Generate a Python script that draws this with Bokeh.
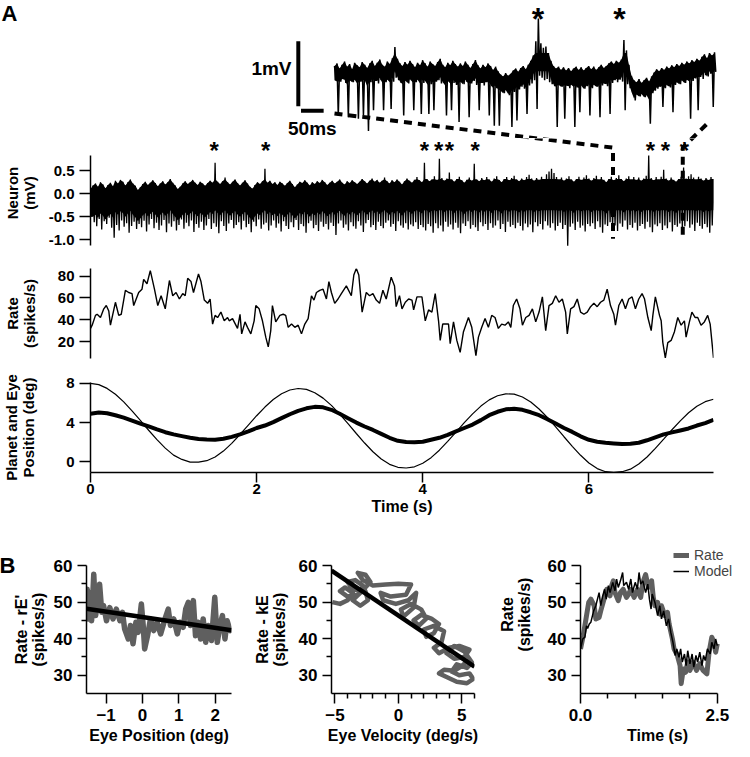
import numpy as np
from bokeh.plotting import figure
from bokeh.models import Range1d, FixedTicker, PrintfTickFormatter, Label, Legend, LegendItem
from bokeh.layouts import column, row
from bokeh.embed import file_html
from bokeh.resources import INLINE
from bokeh.core.properties import value

# ---------------- data ----------------
# Panel A: neuron trace, upper / lower envelope every 30 ms, 0 .. 7.5 s (mV)
neuron_dt = 0.03
neuron_hi = [0.10,0.18,0.22,0.15,0.25,0.20,0.12,0.19,0.24,0.16,
 0.28,0.22,0.30,0.26,0.18,0.25,0.31,0.22,0.17,0.08,
 0.14,0.21,0.26,0.19,0.24,0.29,0.23,0.16,0.22,0.27,
 0.20,0.25,0.32,0.24,0.18,0.10,0.15,0.22,0.27,0.21,
 0.25,0.30,0.24,0.19,0.26,0.22,0.17,0.23,0.28,0.24,
 0.67,0.26,0.21,0.27,0.35,0.25,0.20,0.26,0.31,0.23,
 0.18,0.24,0.29,0.22,0.15,0.11,0.19,0.25,0.21,0.27,
 0.54,0.24,0.28,0.21,0.25,0.19,0.26,0.22,0.17,0.23,
 0.28,0.21,0.14,0.20,0.26,0.23,0.29,0.24,0.18,0.25,
 0.21,0.27,0.23,0.30,0.25,0.19,0.24,0.28,0.22,0.26,
 0.31,0.24,0.20,0.27,0.23,0.29,0.25,0.21,0.26,0.32,
 0.27,0.22,0.28,0.33,0.26,0.30,0.24,0.28,0.35,0.27,
 0.22,0.29,0.25,0.31,0.26,0.20,0.27,0.33,0.28,0.24,
 0.30,0.36,0.29,0.25,0.67,0.32,0.27,0.31,0.38,0.30,
 0.76,0.34,0.28,0.33,0.46,0.31,0.26,0.32,0.37,0.29,
 0.24,0.30,0.35,0.28,0.65,0.31,0.27,0.34,0.29,0.36,
 0.31,0.26,0.33,0.38,0.30,0.25,0.32,0.36,0.29,0.34,
 0.39,0.31,0.27,0.33,0.29,0.36,0.41,0.33,0.28,0.34,
 0.30,0.37,0.32,0.42,0.48,0.54,0.45,0.36,0.31,0.35,
 0.28,0.33,0.38,0.31,0.26,0.32,0.37,0.30,0.35,0.40,
 0.33,0.28,0.34,0.39,0.31,0.36,0.30,0.25,0.32,0.37,
 0.29,0.34,0.40,0.32,0.27,0.33,0.38,0.31,0.36,0.30,
 0.35,0.28,0.33,0.39,0.83,0.34,0.29,0.36,0.31,0.37,
 0.52,0.33,0.28,0.35,0.30,0.26,0.32,0.37,0.57,0.33,
 0.38,0.42,0.35,0.31,0.37,0.33,0.28,0.34,0.30,0.36,0.32]
neuron_lo = [-0.50,-0.62,-0.71,-0.55,-0.78,-0.60,-0.66,-0.52,-0.74,-0.96,
 -0.68,-0.80,-0.58,-0.72,-0.64,-0.85,-0.70,-0.61,-0.77,-0.66,
 -0.73,-0.59,-0.82,-0.67,-0.55,-0.75,-0.63,-0.79,-0.69,-0.57,
 -0.84,-0.65,-0.72,-0.60,-0.80,-0.68,-0.56,-0.76,-0.63,-0.71,
 -0.58,-0.83,-0.66,-0.74,-0.61,-0.79,-0.69,-0.55,-0.77,-0.64,
 -0.72,-0.86,-0.60,-0.70,-0.81,-0.65,-0.57,-0.75,-0.68,-0.62,
 -0.78,-0.59,-0.73,-0.66,-0.84,-0.61,-0.71,-0.56,-0.76,-0.67,
 -0.63,-0.80,-0.69,-0.58,-0.74,-0.65,-0.82,-0.60,-0.70,-0.77,
 -0.62,-0.73,-0.57,-0.79,-0.66,-0.71,-0.85,-0.64,-0.59,-0.75,
 -0.68,-0.81,-0.61,-0.72,-0.66,-0.78,-0.63,-0.70,-0.90,-0.65,
 -0.58,-0.74,-0.67,-0.80,-0.62,-0.71,-0.76,-0.60,-0.69,-0.83,
 -0.64,-0.57,-0.73,-0.68,-0.79,-0.61,-0.70,-0.75,-0.63,-0.58,
 -0.72,-0.66,-0.81,-0.60,-0.69,-0.74,-0.64,-0.78,-0.67,-0.71,
 -0.62,-0.77,-0.68,-0.73,-0.80,-0.66,-0.71,-0.85,-0.64,-0.75,
 -0.69,-0.82,-0.61,-0.72,-0.67,-0.78,-0.63,-0.74,-0.86,-0.65,
 -0.70,-0.60,-0.76,-0.68,-0.73,-0.81,-0.62,-0.71,-0.66,-0.79,
 -0.64,-0.74,-0.69,-0.58,-0.77,-0.66,-0.83,-0.61,-0.72,-0.68,
 -0.75,-0.63,-0.70,-0.80,-0.65,-0.73,-0.67,-0.84,-0.62,-0.71,
 -0.66,-0.78,-0.60,-0.69,-0.74,-0.64,-0.80,-0.70,-0.63,-0.77,
 -0.68,-1.13,-0.72,-0.65,-0.79,-0.61,-0.74,-0.69,-0.82,-0.66,
 -0.71,-0.64,-0.77,-0.60,-0.73,-0.85,-0.67,-0.70,-0.62,-0.76,
 -0.69,-0.81,-0.65,-0.72,-0.58,-0.78,-0.68,-0.74,-0.63,-0.80,
 -0.70,-0.66,-0.76,-0.61,-0.73,-0.84,-0.67,-0.71,-0.64,-0.79,
 -0.69,-0.75,-0.62,-0.82,-0.68,-0.72,-0.65,-0.78,-0.71,-0.60,
 -0.74,-0.67,-0.81,-0.63,-0.70,-0.76,-0.66,-0.73,-0.85,-0.69,-0.62]
complex_spike_t = [1.49, 2.11, 4.02, 4.19, 4.32, 4.63, 6.74, 6.92, 7.15]
zoom_window = [6.29, 7.13]

# inset: magnified trace of the zoom window, upper / lower envelope (mV)
inset_hi = [0.10,0.14,0.06,0.12,0.17,0.09,0.13,0.05,0.15,0.11,
 0.08,0.16,0.12,0.07,0.14,0.18,0.10,0.15,0.20,0.12,
 0.09,0.17,0.13,0.22,0.39,0.21,0.14,0.10,0.16,0.12,
 0.18,0.13,0.08,0.15,0.11,0.19,0.14,0.09,0.17,0.13,
 0.10,0.16,0.21,0.12,0.08,0.15,0.11,0.18,0.13,0.09,
 0.14,0.10,0.17,0.12,0.07,0.13,0.19,0.11,0.06,0.12,
 0.08,0.14,0.10,0.04,0.09,0.02,-0.03,-0.06,-0.01,-0.05,
 -0.02,0.03,0.06,0.01,0.07,0.10,0.05,0.12,0.18,0.26,
 0.48,0.83,0.45,0.38,0.40,0.30,0.18,0.10,0.06,0.09,
 0.04,0.08,0.03,0.07,0.02,0.06,0.09,0.04,0.08,0.03,
 0.07,0.10,0.05,0.09,0.04,0.08,0.12,0.07,0.10,0.14,
 0.17,0.13,0.18,0.15,0.20,0.50,0.34,0.12,-0.05,-0.12,
 -0.15,-0.10,-0.16,-0.12,-0.08,-0.14,-0.06,0.00,0.05,0.02,
 0.07,0.04,0.09,0.06,0.11,0.08,0.13,0.10,0.15,0.12,
 0.17,0.14,0.19,0.16,0.21,0.18,0.24,0.28,0.22,0.30,0.26,0.31]
inset_lo = [-0.12,-0.66,-0.14,-0.10,-0.16,-0.69,-0.12,-0.15,-0.11,-0.71,
 -0.14,-0.66,-0.12,-0.90,-0.15,-0.58,-0.13,-0.17,-0.12,-0.58,
 -0.15,-0.11,-0.56,-0.14,-0.08,-0.12,-0.16,-0.66,-0.13,-0.17,
 -0.12,-0.58,-0.15,-0.11,-0.64,-0.16,-0.13,-0.64,-0.18,-0.58,
 -0.14,-0.12,-0.17,-0.15,-0.66,-0.13,-0.58,-0.16,-0.19,-0.76,
 -0.15,-0.18,-0.14,-0.69,-0.17,-0.13,-0.19,-0.58,-0.16,-0.20,
 -0.15,-0.66,-0.21,-0.82,-0.24,-0.82,-0.28,-0.32,-0.27,-0.35,
 -0.84,-0.30,-0.74,-0.26,-0.22,-0.25,-0.64,-0.20,-0.17,-0.12,
 -0.56,-0.05,-0.08,-0.12,-0.10,-0.15,-0.18,-0.21,-0.84,-0.19,
 -0.22,-0.71,-0.20,-0.24,-0.19,-0.84,-0.23,-0.61,-0.20,-0.25,
 -0.21,-0.66,-0.24,-0.19,-0.22,-0.69,-0.20,-0.17,-0.21,-0.64,
 -0.16,-0.12,-0.15,-0.11,-0.14,-0.58,-0.18,-0.24,-0.30,-0.43,
 -0.34,-0.37,-0.33,-0.38,-0.35,-0.79,-0.32,-0.28,-0.25,-0.22,
 -0.53,-0.24,-0.20,-0.23,-0.61,-0.19,-0.15,-0.18,-0.12,-0.16,
 -0.11,-0.71,-0.13,-0.09,-0.58,-0.07,-0.10,-0.04,-0.06,-0.02,-0.53,0.01]

# firing rate (spikes/s)
rate_t = [0.00,0.02,0.06,0.08,0.12,0.16,0.19,0.22,0.24,0.30,0.34,0.37,0.42,0.46,0.50,0.52,0.58,0.62,0.64,0.68,
 0.72,0.77,0.81,0.85,0.90,0.95,0.99,1.03,1.07,1.11,1.14,1.17,1.21,1.24,1.30,1.33,1.37,1.41,1.44,1.47,
 1.50,1.53,1.57,1.61,1.65,1.67,1.71,1.77,1.80,1.82,1.86,1.89,1.93,1.97,1.99,2.03,2.07,2.11,2.14,2.17,
 2.19,2.23,2.28,2.32,2.35,2.38,2.42,2.46,2.50,2.54,2.58,2.62,2.66,2.69,2.72,2.76,2.80,2.84,2.87,2.90,
 2.94,2.98,3.02,3.08,3.14,3.17,3.20,3.23,3.27,3.32,3.36,3.40,3.44,3.48,3.52,3.56,3.62,3.66,3.68,3.72,
 3.75,3.79,3.83,3.87,3.89,3.93,3.99,4.03,4.07,4.11,4.15,4.19,4.21,4.24,4.27,4.31,4.33,4.37,4.41,4.45,
 4.49,4.55,4.59,4.64,4.67,4.71,4.75,4.79,4.83,4.87,4.91,4.95,4.99,5.03,5.06,5.09,5.13,5.17,5.20,5.24,
 5.28,5.32,5.36,5.40,5.44,5.48,5.52,5.56,5.60,5.64,5.68,5.72,5.74,5.78,5.82,5.86,5.90,5.94,5.98,6.02,
 6.06,6.10,6.14,6.18,6.22,6.26,6.30,6.32,6.36,6.40,6.44,6.48,6.52,6.56,6.60,6.64,6.67,6.71,6.75,6.77,
 6.80,6.85,6.87,6.89,6.92,6.95,6.99,7.03,7.07,7.11,7.15,7.17,7.21,7.24,7.28,7.31,7.35,7.39,7.43,7.46,7.50]
rate_v = [32,35,44,45,42,50,53,48,35,56,44,45,67,65,64,53,65,68,77,73,
 85,68,53,62,50,76,62,65,59,64,62,78,75,65,82,75,58,55,59,36,
 44,42,47,39,42,39,41,32,45,27,38,33,27,39,53,50,39,24,15,30,
 53,38,44,45,44,33,36,33,35,27,36,41,62,58,65,67,68,59,75,65,
 55,59,64,71,62,81,87,81,47,65,62,64,58,55,67,59,79,71,52,62,
 50,56,59,58,49,61,61,39,49,47,64,39,21,36,36,36,18,38,21,10,
 29,42,33,7,24,33,41,33,44,42,32,36,35,38,33,53,59,50,35,42,
 44,50,38,47,61,30,53,55,62,56,59,47,27,50,52,59,47,45,47,52,
 55,52,56,58,68,53,45,35,53,59,50,59,61,50,59,64,59,42,30,44,
 61,44,39,19,5,19,21,29,42,35,39,24,38,47,42,42,35,38,44,36,5]

# planet (target) and eye position, every 0.1 s (deg)
pos_dt = 0.1
planet_pos = [8.00,7.86,7.48,6.88,6.11,5.20,4.22,3.22,2.26,1.40,
 0.69,0.25,-0.02,-0.03,0.12,0.50,1.10,1.89,2.79,3.75,
 4.70,5.58,6.35,6.94,7.32,7.47,7.38,7.04,6.49,5.75,
 4.86,3.89,2.89,1.92,1.03,0.29,-0.25,-0.55,-0.62,-0.50,
 -0.14,0.43,1.19,2.08,3.03,3.99,4.89,5.68,6.31,6.73,
 6.93,6.89,6.60,6.09,5.38,4.52,3.56,2.56,1.58,0.67,
 -0.11,-0.68,-1.00,-1.07,-1.00,-0.74,-0.21,0.50,1.37,2.31,
 3.27,4.18,5.00,5.67,6.13,6.38]
eye_pos = [4.90,5.02,4.95,4.75,4.50,4.20,3.90,3.62,3.30,3.02,
 2.80,2.62,2.45,2.33,2.28,2.25,2.35,2.55,2.80,3.10,
 3.45,3.70,4.05,4.45,4.85,5.20,5.45,5.60,5.55,5.30,
 4.90,4.45,4.00,3.60,3.25,2.85,2.45,2.15,2.02,2.00,
 2.05,2.25,2.45,2.75,3.10,3.45,3.80,4.25,4.75,5.10,
 5.35,5.40,5.30,5.05,4.75,4.35,3.90,3.45,3.05,2.60,
 2.25,2.05,1.95,1.88,1.82,1.85,1.95,2.20,2.50,2.80,
 3.00,3.20,3.40,3.70,3.95,4.29]

# Panel B1: rate - rE' against eye position
b1_eye_pos = [-1.54,-1.52,-1.49,-1.45,-1.40,-1.34,-1.29,-1.22,-1.18,-1.12,-1.07,-0.99,-0.90,-0.81,-0.72,
 -0.62,-0.55,-0.49,-0.39,-0.33,-0.26,-0.18,-0.12,-0.03,0.02,0.06,0.14,0.22,0.31,0.40,0.50,0.62,0.71,0.77,
 0.86,0.96,1.03,1.12,1.19,1.26,1.32,1.40,1.46,1.53,1.60,1.67,1.74,1.81,1.90,1.99,2.06,2.13,2.20,2.27,2.33,2.41,2.48]
b1_rate = [48.1,53.5,45.4,52.6,44.9,57.6,46.3,50.8,54.9,47.2,49.0,44.9,48.5,45.4,48.1,
 44.9,47.2,42.6,39.9,43.6,38.6,44.5,41.7,49.5,43.6,37.2,40.8,45.4,42.2,44.5,41.3,45.4,48.1,43.6,
 45.4,41.3,44.5,43.1,48.1,49.9,43.6,50.4,40.8,44.5,39.9,45.4,39.0,43.6,39.5,51.3,39.0,43.6,46.3,39.9,44.9,42.2,43.1]
b1_fit = [45.9, -1.47]   # intercept, slope

# Panel B2: rate - kE against eye velocity
b2_eye_vel = [-5.2,-4.6,-4.0,-3.6,-4.2,-4.6,-4.0,-3.2,-2.8,-3.4,-4.0,-3.6,-2.6,-2.4,-3.0,
 -3.6,-3.0,-2.2,-2.6,-3.2,-2.8,-2.0,-1.0,0.0,1.0,0.6,-0.6,-1.4,-1.2,-0.2,
 0.8,1.4,1.2,0.4,0.2,1.0,1.8,2.2,1.6,1.2,1.8,2.6,3.2,2.8,2.2,
 2.0,2.8,3.6,3.4,2.8,3.2,4.0,4.8,5.6,5.2,4.4,3.8,4.4,5.2,5.8,
 5.4,4.6,4.2,4.8,5.6,5.9,5.4,4.6,3.8,3.2,3.6,4.4,5.0,5.6,5.2]
b2_rate = [50.0,49.5,50.5,52.5,54.0,53.0,51.5,52.0,54.5,56.0,55.5,53.5,53.0,50.5,49.0,
 50.5,52.5,55.5,57.5,58.0,56.0,54.5,54.8,55.0,54.8,52.0,51.5,52.5,50.5,49.5,
 50.5,52.5,48.5,46.0,48.0,49.5,48.0,45.5,43.5,45.0,46.5,45.5,44.0,41.5,40.5,
 42.5,43.5,42.0,39.0,37.5,36.0,37.5,38.0,37.0,35.0,34.5,36.0,38.0,36.5,33.5,
 32.0,33.0,31.0,30.0,30.5,29.0,27.8,28.2,29.5,30.5,31.5,31.2,32.5,34.5,36.0]
b2_fit = [46.3, -2.33]

# Panel B3: rate and model against time
b3_t = [0.00,0.05,0.11,0.15,0.19,0.25,0.28,0.34,0.37,0.43,0.48,0.54,0.57,0.60,0.63,0.69,0.73,0.78,0.84,0.88,
 0.92,0.98,1.04,1.10,1.14,1.19,1.24,1.30,1.33,1.36,1.41,1.45,1.48,1.54,1.59,1.62,1.68,1.71,1.77,1.82,
 1.84,1.88,1.92,1.96,2.00,2.06,2.12,2.18,2.24,2.31,2.35,2.40,2.44,2.47,2.50]
b3_rate = [37.2,40.8,46.3,49.9,50.8,49.0,45.4,45.8,47.6,50.8,53.5,51.7,54.5,55.8,52.6,50.4,52.6,53.5,51.3,52.2,
 53.5,51.3,53.5,51.3,55.4,57.5,54.0,55.8,51.3,49.0,49.9,46.7,49.0,46.3,47.2,44.0,39.9,37.2,35.4,32.6,
 27.7,31.7,30.8,33.6,31.3,33.6,31.3,33.1,31.3,30.4,36.3,40.4,39.0,36.3,38.6]
b3_model_t = [0.00,0.04,0.08,0.11,0.13,0.16,0.19,0.24,0.28,0.31,0.34,0.37,0.40,0.44,0.47,0.51,0.54,0.59,0.63,0.66,
 0.69,0.73,0.77,0.79,0.84,0.88,0.92,0.95,1.00,1.04,1.07,1.10,1.14,1.19,1.23,1.26,1.29,1.31,1.36,1.41,
 1.45,1.48,1.52,1.57,1.61,1.65,1.69,1.73,1.76,1.80,1.83,1.86,1.90,1.93,1.96,2.00,2.04,2.07,2.11,2.14,
 2.18,2.22,2.25,2.28,2.32,2.37,2.40,2.44,2.47,2.50]
b3_model = [37.2,39.9,40.4,43.5,42.8,44.0,44.5,47.6,49.0,50.8,52.6,49.0,51.3,53.5,50.8,54.5,52.6,55.4,53.1,56.3,
 54.0,55.8,58.1,54.5,55.4,53.5,56.3,52.6,55.4,53.5,58.1,54.9,55.8,52.6,54.9,50.8,48.1,52.2,49.9,46.3,
 49.0,45.4,47.6,43.5,45.4,41.7,39.0,35.4,37.2,34.9,37.2,33.6,35.8,32.6,36.7,33.1,35.8,32.2,35.4,33.6,
 36.3,32.6,35.4,34.0,37.2,35.8,39.0,37.2,39.9,38.1]

# ---------------- layout constants ----------------
FONT = "Liberation Sans"
GRAY = "#5f5f5f"
W = 734
H_INSET, H_NEURON, H_RATE, H_POS, H_B = 138, 114, 114, 162, 221
A_LEFT, A_FRAME_W = 84, 629
T_END = 7.5
B_TOP, B_FRAME_H, B_BOTTOM = 37, 128, 56

def base_fig(w, h, xr, yr, left, right, top, bottom, xloc=None, yloc=None):
    p = figure(width=w, height=h, x_range=Range1d(*xr), y_range=Range1d(*yr),
               x_axis_location=xloc, y_axis_location=yloc,
               output_backend="svg", toolbar_location=None,
               min_border_left=left, min_border_right=right,
               min_border_top=top, min_border_bottom=bottom)
    try:
        p.frame_align = False
    except Exception:
        pass
    p.outline_line_color = None
    p.grid.visible = False
    p.background_fill_color = "white"
    p.border_fill_color = "white"
    return p

def style_axis(ax, ticks, minor=(), fmt=None, tick_size="15px", label="", label_size="15px",
               label_standoff=5, tick_out=11, minor_out=6, tick_standoff=5, bounds=None, line_height=1.0):
    ax.ticker = FixedTicker(ticks=list(ticks), minor_ticks=list(minor))
    if fmt:
        ax.formatter = PrintfTickFormatter(format=fmt)
    ax.axis_line_width = 1.5
    ax.axis_line_color = "black"
    ax.major_tick_line_width = 1.5
    ax.minor_tick_line_width = 1.5
    ax.major_tick_line_color = "black"
    ax.minor_tick_line_color = "black"
    ax.major_tick_in = 0
    ax.major_tick_out = tick_out
    ax.minor_tick_in = 0
    ax.minor_tick_out = minor_out
    ax.major_label_text_font = FONT
    ax.major_label_text_font_style = "bold"
    ax.major_label_text_font_size = tick_size
    ax.major_label_text_color = "black"
    ax.major_label_standoff = tick_standoff
    ax.axis_label = label
    ax.axis_label_text_font = FONT
    ax.axis_label_text_font_style = "bold"
    ax.axis_label_text_font_size = label_size
    ax.axis_label_text_color = "black"
    ax.axis_label_standoff = label_standoff
    ax.axis_label_text_line_height = line_height
    if bounds is not None:
        ax.bounds = bounds

def zigzag(t0, dt, hi, lo):
    n = min(len(hi), len(lo))
    t = t0 + np.arange(n) * dt
    xs = np.empty(2 * n)
    ys = np.empty(2 * n)
    xs[0::2] = t
    xs[1::2] = t + dt / 2
    ys[0::2] = hi[:n]
    ys[1::2] = lo[:n]
    return xs, ys

def draw_band(p, t0, dt, hi, lo, cap, depth, width):
    """dense noisy trace: solid core plus the zig-zag of every sample"""
    n = min(len(hi), len(lo))
    h = np.asarray(hi[:n], dtype=float)
    l = np.asarray(lo[:n], dtype=float)
    t = t0 + np.arange(n) * dt
    core_top = np.minimum(h, cap)
    core_bot = np.maximum(l, core_top - depth)
    p.varea(x=t, y1=core_bot, y2=core_top, fill_color="black")
    xs, ys = zigzag(t0, dt, hi, lo)
    p.line(xs, ys, line_color="black", line_width=width)

TXT = dict(text_font=value(FONT), text_font_style="bold", text_color="black")

# ---------------- inset (magnified window) ----------------
win0, win1 = zoom_window
IN_PX_S = 452.4      # px per second in the inset
IN_PX_MV = 65.0      # px per mV in the inset
IN_T0_PX = 334.0     # px where the window starts
IN_ZERO_PX = 72.0    # px (from top) of 0 mV
ix0 = win0 - IN_T0_PX / IN_PX_S
ix1 = ix0 + W / IN_PX_S
iy1 = IN_ZERO_PX / IN_PX_MV
iy0 = -(H_INSET - IN_ZERO_PX) / IN_PX_MV

fi = base_fig(W, H_INSET, (ix0, ix1), (iy0, iy1), 0, 0, 0, 0)
n_in = min(len(inset_hi), len(inset_lo))
draw_band(fi, win0, (win1 - win0) / (n_in - 1), inset_hi, inset_lo, 0.3, 0.28, 1.5)

sb_t, sb_v = win0 - 0.080, -0.52
fi.line([sb_t, sb_t], [sb_v, sb_v + 1.0], line_color="black", line_width=4, line_cap="butt")
fi.line([sb_t + 0.006, sb_t + 0.056], [sb_v - 0.07, sb_v - 0.07], line_color="black", line_width=4, line_cap="butt")
fi.text(x=[sb_t - 0.015], y=[0.06], text=["1mV"], text_font_size="19px", text_align="right",
        text_baseline="middle", **TXT)
fi.text(x=[sb_t + 0.031], y=[-0.86], text=["50ms"], text_font_size="19px", text_align="center",
        text_baseline="middle", **TXT)
in_stars = [t for t in complex_spike_t if win0 <= t <= win1]
fi.text(x=in_stars, y=[iy1] * len(in_stars), text=["*"] * len(in_stars), text_font_size="32px",
        text_align="center", text_baseline="top", **TXT)
fi.add_layout(Label(x=ix0 + 1 / IN_PX_S, y=iy1, text="A", text_font=FONT, text_font_style="bold",
                    text_font_size="22px", text_baseline="top", text_align="left", text_color="black"))

# ---------------- neuron trace ----------------
ny0, ny1 = -1.17, 1.2
N_FRAME_H = H_NEURON - 5
fn = base_fig(W, H_NEURON, (0, T_END), (ny0, ny1), A_LEFT, W - A_LEFT - A_FRAME_W, 0, 5, yloc="left")
draw_band(fn, 0.0, neuron_dt, neuron_hi, neuron_lo, 0.32, 0.68, 1.3)
fn.text(x=complex_spike_t, y=[0.93] * len(complex_spike_t), text=["*"] * len(complex_spike_t),
        text_font_size="24px", text_align="center", text_baseline="middle", **TXT)
style_axis(fn.yaxis[0], [-1.0, -0.5, 0.0, 0.5], fmt="%.1f", label="Neuron\n(mV)",
           label_standoff=8, bounds=(-1.13, 0.83))

# zoom connectors crossing from the inset into the neuron panel
def inset_px(t, v):
    return ((t - ix0) * IN_PX_S, (iy1 - v) * IN_PX_MV)
def px_inset(x, y):
    return (ix0 + x / IN_PX_S, iy1 - y / IN_PX_MV)
def neuron_px(t, v):
    return (A_LEFT + t * A_FRAME_W / T_END, H_INSET + (ny1 - v) * N_FRAME_H / (ny1 - ny0))
def px_neuron(x, y):
    return ((x - A_LEFT) * T_END / A_FRAME_W, ny1 - (y - H_INSET) * (ny1 - ny0) / N_FRAME_H)

conn_top, conn_bot = 1.0, -0.98
for (ta, va), tb in [((win0, -0.63), win0), ((win1 - 0.018, -0.80), win1)]:
    ax_, ay_ = inset_px(ta, va)
    bx_, by_ = neuron_px(tb, conn_top)
    def at_y(yy):
        f = (yy - ay_) / (by_ - ay_)
        return ax_ + f * (bx_ - ax_)
    p_in = px_inset(at_y(H_INSET + 4), H_INSET + 4)
    fi.line([ta, p_in[0]], [va, p_in[1]], line_color="black", line_width=4, line_dash="8 6")
    p_n = px_neuron(at_y(H_INSET - 4), H_INSET - 4)
    fn.line([p_n[0], tb, tb], [p_n[1], conn_top, conn_bot], line_color="black", line_width=4,
            line_dash="8 6")

# ---------------- rate ----------------
fr = base_fig(W, H_RATE, (0, T_END), (4.4, 87.0), A_LEFT, W - A_LEFT - A_FRAME_W, 16, 8, yloc="left")
nr = min(len(rate_t), len(rate_v))
fr.line(rate_t[:nr], rate_v[:nr], line_color="black", line_width=1.4)
style_axis(fr.yaxis[0], [20, 40, 60, 80], label="Rate\n(spikes/s)", label_standoff=17)

# ---------------- planet and eye position ----------------
fp = base_fig(W, H_POS, (0, T_END), (-1.08, 8.08), A_LEFT, W - A_LEFT - A_FRAME_W, 16, 56,
              xloc="below", yloc="left")
tp = np.arange(len(planet_pos)) * pos_dt
fp.line(tp, planet_pos, line_color="black", line_width=1.2)
te = np.arange(len(eye_pos)) * pos_dt
fp.line(te, eye_pos, line_color="black", line_width=4, line_join="round")
style_axis(fp.yaxis[0], [0, 4, 8], label="Planet and Eye\nPosition (deg)", label_standoff=26)
style_axis(fp.xaxis[0], [0, 2, 4, 6], label="Time (s)", label_size="16px", tick_out=10,
           tick_standoff=1, label_standoff=1)

# ---------------- panel B ----------------
def b_axes(p, xticks, xminor, xfmt, xlabel, ylabel, ystand, ybounds=None, xbounds=None):
    style_axis(p.yaxis[0], [30, 40, 50, 60], minor=[35, 45, 55], tick_size="17px", label=ylabel,
               label_size="16px", label_standoff=ystand, tick_out=9, minor_out=5, bounds=ybounds)
    style_axis(p.xaxis[0], xticks, minor=xminor, fmt=xfmt, tick_size="17px", label=xlabel,
               label_size="16px", label_standoff=3, tick_out=10, minor_out=5, tick_standoff=5,
               bounds=xbounds)

b1x = (-1.54, 2.45)
fb1 = base_fig(250, H_B, b1x, (25, 60), 86, 19, B_TOP, B_BOTTOM, xloc="below", yloc="left")
fb1.line(b1_eye_pos, b1_rate, line_color=GRAY, line_width=5.5, line_join="round")
xf = np.array(b1x)
fb1.line(xf, b1_fit[0] + b1_fit[1] * xf, line_color="black", line_width=4.5)
b_axes(fb1, [-1, 0, 1, 2], [], None, "Eye Position (deg)", "Rate - rE'\n(spikes/s)", 4)
fb1.title.text = "B"
fb1.title.align = "left"
fb1.title.offset = -87
fb1.title.standoff = -25
fb1.title.text_font = FONT
fb1.title.text_font_style = "bold"
fb1.title.text_font_size = "22px"
fb1.title.text_color = "black"

b2x = (-5.27, 6.0)
fb2 = base_fig(245, H_B, b2x, (25, 60), 81, 21, B_TOP, B_BOTTOM, xloc="below", yloc="left")
fb2.line(b2_eye_vel, b2_rate, line_color=GRAY, line_width=4.5, line_join="round")
xf = np.array(b2x)
fb2.line(xf, b2_fit[0] + b2_fit[1] * xf, line_color="black", line_width=4.5)
b_axes(fb2, [-5, 0, 5], [-4, -3, -2, -1, 1, 2, 3, 4, 6], None, "Eye Velocity (deg/s)",
       "Rate - kE\n(spikes/s)", 8)

B3_TOP = 7
b3_top = 60 + (B_TOP - B3_TOP) * 35 / B_FRAME_H
b3_right = 2.5 + 18 * 2.5 / 143
fb3 = base_fig(239, H_B, (0, b3_right), (25, b3_top), 78, 0, B3_TOP, B_BOTTOM, xloc="below", yloc="left")
r_rate = fb3.line(b3_t, b3_rate, line_color=GRAY, line_width=5, line_join="round")
r_model = fb3.line(b3_model_t, b3_model, line_color="black", line_width=1.5)
b_axes(fb3, [0, 2.5], [0.5, 1.0, 1.5, 2.0], "%.1f", "Time (s)", "Rate\n(spikes/s)", 12,
       ybounds=(25, 60), xbounds=(0, 2.5))
leg = Legend(items=[LegendItem(label="Rate", renderers=[r_rate]),
                    LegendItem(label="Model", renderers=[r_model])],
             location=(93, 114), label_text_font=FONT, label_text_font_size="14px",
             glyph_width=16, glyph_height=14, label_height=14, spacing=0, padding=0, margin=0,
             label_standoff=5, border_line_color=None, background_fill_alpha=0)
fb3.add_layout(leg)

layout = column(fi, fn, fr, fp, row(fb1, fb2, fb3, spacing=0), spacing=0)
open("out.html", "w").write(file_html(layout, INLINE))
